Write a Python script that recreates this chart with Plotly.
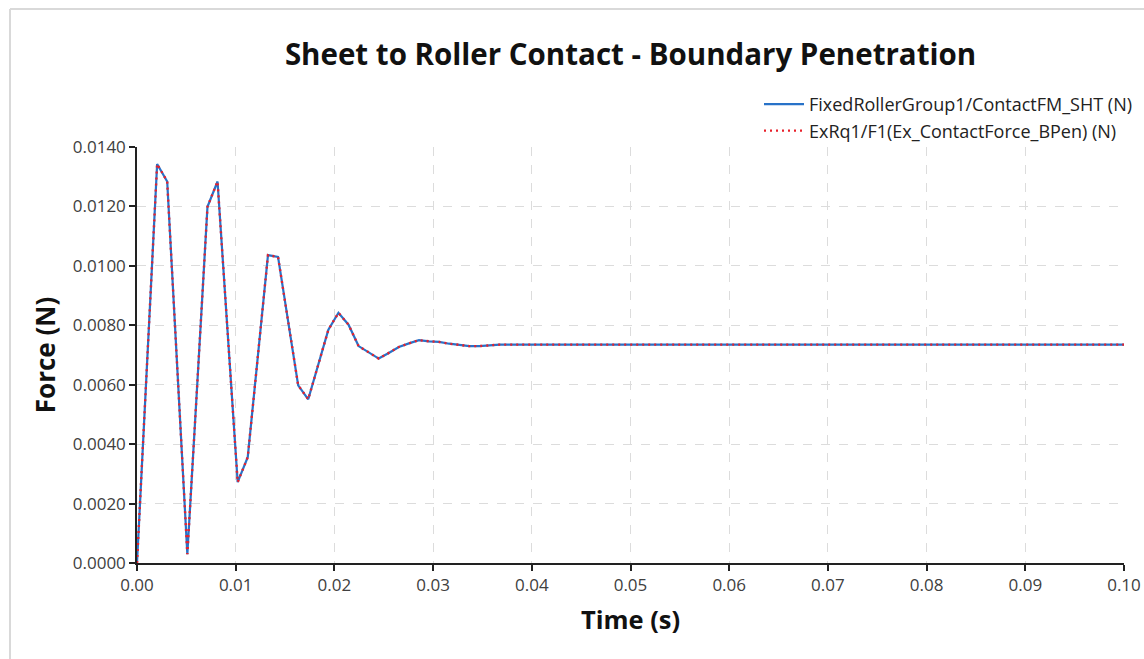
import plotly.graph_objects as go

# Time samples (s) at the vertices of the curve (output step 0.1/98 s)
time_s = [0.00000, 0.00102, 0.00204, 0.00306, 0.00408, 0.00510, 0.00612, 0.00714,
          0.00816, 0.00918, 0.01020, 0.01122, 0.01224, 0.01327, 0.01429, 0.01531,
          0.01633, 0.01735, 0.01837, 0.01939, 0.02041, 0.02143, 0.02245, 0.02347,
          0.02449, 0.02551, 0.02653, 0.02755, 0.02857, 0.02959, 0.03061, 0.03163,
          0.03265, 0.03367, 0.03469, 0.03571, 0.03673, 0.04000, 0.05000, 0.06000,
          0.07000, 0.08000, 0.09000, 0.10000]

# FixedRollerGroup1/ContactFM_SHT (N)
force_fm = [0.00000, 0.00670, 0.01343, 0.01284, 0.00660, 0.00030, 0.00610, 0.01199,
            0.01284, 0.00780, 0.00272, 0.00356, 0.00700, 0.01036, 0.01030, 0.00815,
            0.00598, 0.00551, 0.00668, 0.00785, 0.00842, 0.00802, 0.00730, 0.00710,
            0.00688, 0.00707, 0.00727, 0.00739, 0.00750, 0.00746, 0.00744, 0.00738,
            0.00733, 0.00730, 0.00730, 0.00732, 0.00735, 0.00735, 0.00735, 0.00735,
            0.00735, 0.00735, 0.00735, 0.00735]

# ExRq1/F1(Ex_ContactForce_BPen) (N) - overlays the first series
force_bpen = list(force_fm)

x_ticks = [0.00, 0.01, 0.02, 0.03, 0.04, 0.05, 0.06, 0.07, 0.08, 0.09, 0.10]
y_ticks = [0.0000, 0.0020, 0.0040, 0.0060, 0.0080, 0.0100, 0.0120, 0.0140]

W, H = 1144, 659
L, R, T, B = 137, 20, 147, 96
pw, ph = W - L - R, H - T - B

fig = go.Figure()
fig.add_trace(go.Scatter(
    x=time_s, y=force_fm, mode="lines",
    name="FixedRollerGroup1/ContactFM_SHT (N)",
    line=dict(color="#2872C8", width=2.2),
))
fig.add_trace(go.Scatter(
    x=time_s, y=force_bpen, mode="lines",
    name="ExRq1/F1(Ex_ContactForce_BPen) (N)",
    line=dict(color="#E8202B", width=2.4, dash="2px,4px"),
))

font_main = "Open Sans, Noto Sans, DejaVu Sans, sans-serif"


def px_x(x):
    return (x - L) / pw


def px_y(y):
    return (H - B - y) / ph


# light frame around the chart
fig.add_shape(type="line", xref="paper", yref="paper",
              x0=px_x(10), x1=px_x(W + 5), y0=px_y(9), y1=px_y(9),
              line=dict(color="#D9D9D9", width=2))
fig.add_shape(type="line", xref="paper", yref="paper",
              x0=px_x(10), x1=px_x(10), y0=px_y(9), y1=px_y(H + 5),
              line=dict(color="#D9D9D9", width=2))

fig.update_layout(
    width=W, height=H,
    margin=dict(l=L, r=R, t=T, b=B, autoexpand=False),
    paper_bgcolor="white", plot_bgcolor="white",
    font=dict(family=font_main, size=17, color="#404040"),
    title=dict(
        text="<b>Sheet to Roller Contact - Boundary Penetration</b>",
        x=(L + pw / 2) / W, xanchor="center",
        y=1 - 55 / H, yanchor="middle",
        font=dict(family=font_main, size=29.5, color="#111111"),
    ),
    legend=dict(
        x=px_x(1138), xanchor="right", y=px_y(86), yanchor="top",
        bgcolor="rgba(0,0,0,0)",
        font=dict(family=font_main, size=18, color="#222222"),
        itemwidth=40,
    ),
    showlegend=True,
)

fig.update_xaxes(
    range=[0, 0.1], tickvals=x_ticks, ticktext=[f"{v:.2f}" for v in x_ticks],
    showline=True, linecolor="#222222", linewidth=1.5,
    ticks="outside", ticklen=6, tickwidth=2, tickcolor="#222222",
    showgrid=True, gridcolor="#DCDCDC", griddash="dash", gridwidth=1,
    zeroline=False, automargin=False,
    title=dict(text="<b>Time (s)</b>", standoff=16,
               font=dict(family=font_main, size=25.5, color="#111111")),
)
fig.update_yaxes(
    range=[0, 0.014], tickvals=y_ticks, ticktext=[f"{v:.4f}" for v in y_ticks],
    showline=True, linecolor="#222222", linewidth=1.5,
    ticks="outside", ticklen=6, tickwidth=2, tickcolor="#222222",
    showgrid=True, gridcolor="#DCDCDC", griddash="dash", gridwidth=1,
    zeroline=False, automargin=False,
    title=dict(text="<b>Force (N)</b>", standoff=10,
               font=dict(family=font_main, size=26, color="#111111")),
)

fig.write_html("out.html")
